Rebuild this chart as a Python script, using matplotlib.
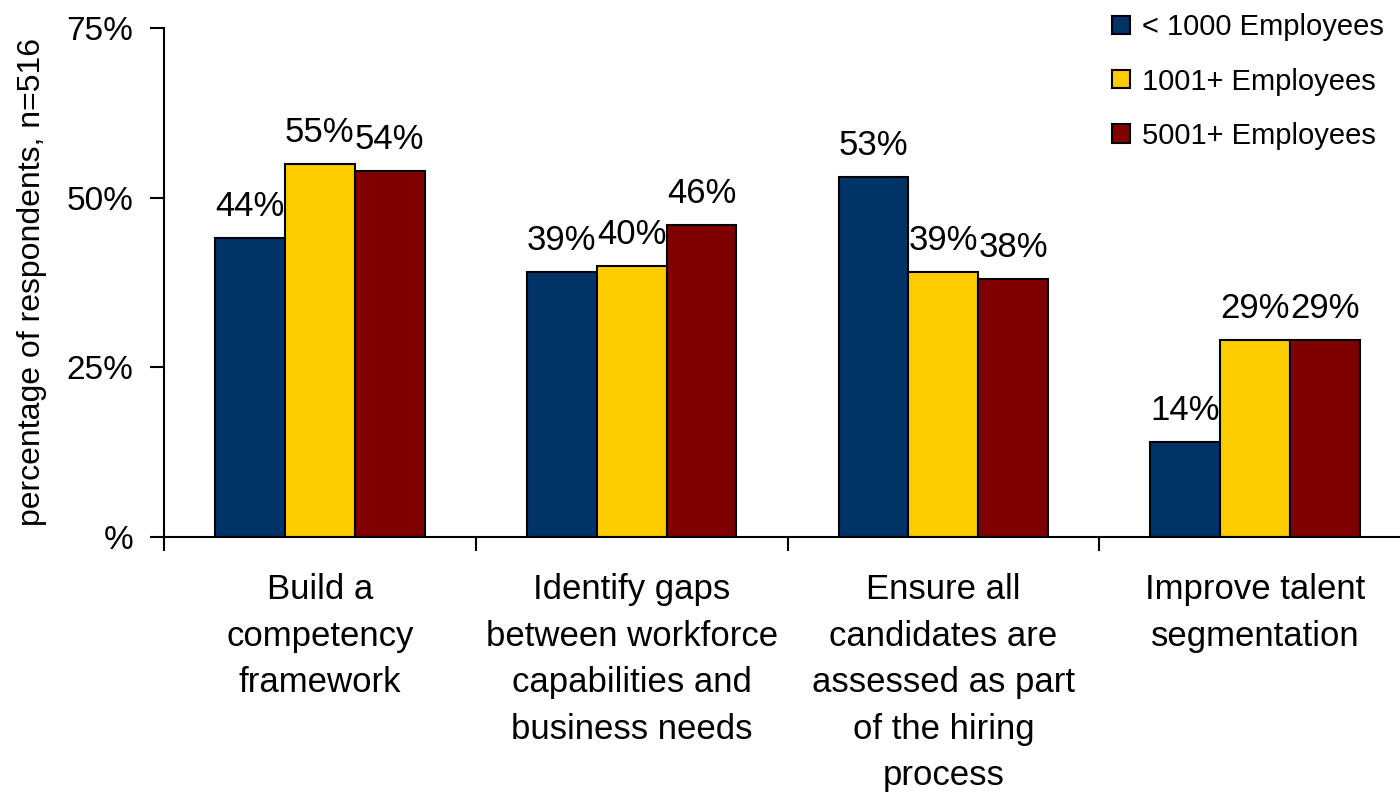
import matplotlib
matplotlib.use("Agg")
import matplotlib.pyplot as plt
import numpy as np
from matplotlib.patches import Patch
from matplotlib.ticker import FixedLocator, FixedFormatter

plt.rcParams['font.family'] = ['Liberation Sans', 'DejaVu Sans']

categories = ["Build a\ncompetency\nframework",
              "Identify gaps\nbetween workforce\ncapabilities and\nbusiness needs",
              "Ensure all\ncandidates are\nassessed as part\nof the hiring\nprocess",
              "Improve talent\nsegmentation"]
series_names = ["< 1000 Employees", "1001+ Employees", "5001+ Employees"]
small_co = [44, 39, 53, 14]
mid_co = [55, 40, 39, 29]
large_co = [54, 46, 38, 29]
colors = ["#003366", "#FFCC00", "#800000"]
y_ticks = [0, 25, 50, 75]
y_tick_labels = ["%", "25%", "50%", "75%"]

fig = plt.figure(figsize=(14, 7.92), dpi=100)
ax = fig.add_axes([164/1400, 1 - 537/792, (1411 - 164)/1400, (537 - 28)/792])

bar_w = 0.224
centers = np.arange(len(categories)) + 0.5
for i, (vals, col) in enumerate(zip([small_co, mid_co, large_co], colors)):
    xs = centers + (i - 1) * bar_w
    ax.bar(xs, vals, width=bar_w, color=col, edgecolor="black", linewidth=1.5, zorder=2)
    for x, v in zip(xs, vals):
        ax.text(x, v + 2.2, f"{v}%", ha="center", va="bottom", fontsize=25)

ax.set_xlim(0, len(categories))
ax.set_ylim(0, 75)

# category boundaries as major ticks, names as minor tick labels
ax.xaxis.set_major_locator(FixedLocator(range(len(categories) + 1)))
ax.xaxis.set_major_formatter(FixedFormatter([""] * (len(categories) + 1)))
ax.xaxis.set_minor_locator(FixedLocator(centers))
ax.xaxis.set_minor_formatter(FixedFormatter(categories))
ax.tick_params(axis="x", which="major", length=10, width=1.5, direction="out")
ax.tick_params(axis="x", which="minor", length=0, pad=26, labelsize=25)
for lab in ax.get_xticklabels(minor=True):
    lab.set_linespacing(1.52)

ax.set_yticks(y_ticks)
ax.set_yticklabels(y_tick_labels)
ax.tick_params(axis="y", length=10, width=1.5, direction="out", pad=12, labelsize=24)

for side in ["top", "right"]:
    ax.spines[side].set_visible(False)
for side in ["left", "bottom"]:
    ax.spines[side].set_linewidth(1.5)

ax.set_ylabel("percentage of respondents, n=516", fontsize=23, labelpad=14)

handles = [Patch(facecolor=c, edgecolor="black", linewidth=1.5) for c in colors]
fig.legend(handles, series_names, loc="upper left", bbox_to_anchor=(1086/1400, 1 + 13/792),
           frameon=False, fontsize=21, handlelength=0.6, handleheight=0.6,
           handletextpad=0.42, labelspacing=0.9)

fig.savefig("out.png", dpi=100)
